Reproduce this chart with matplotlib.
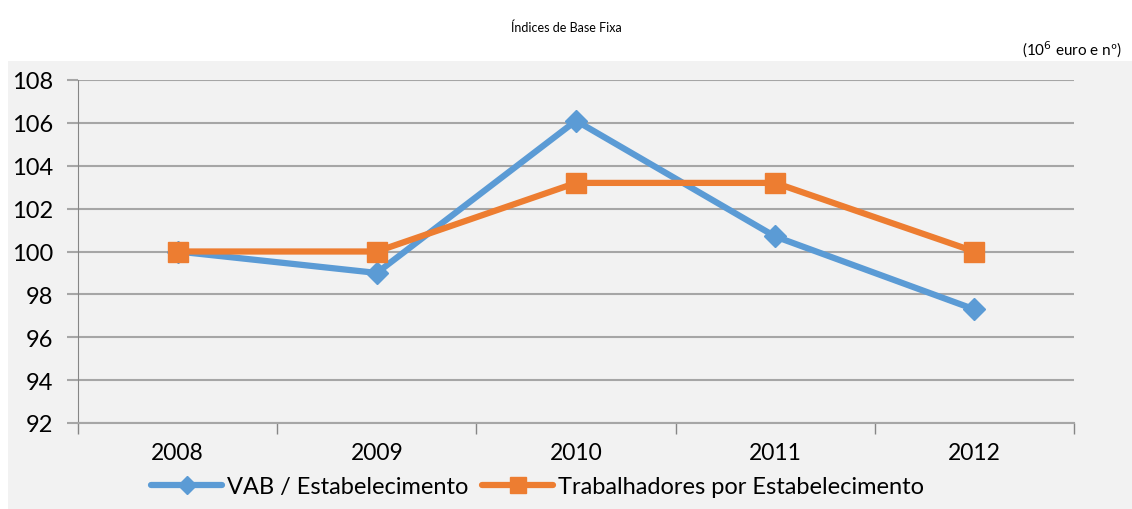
import matplotlib
matplotlib.use('Agg')
import matplotlib.pyplot as plt
from matplotlib.patches import Rectangle

years = ['2008', '2009', '2010', '2011', '2012']
vab = [100.0, 99.0, 106.1, 100.7, 97.3]
trab = [100.0, 100.0, 103.2, 103.2, 100.0]
yticks = [92, 94, 96, 98, 100, 102, 104, 106, 108]

plt.rcParams['font.family'] = ['Lato', 'DejaVu Sans']

W, H = 1132, 510
fig = plt.figure(figsize=(W / 100, H / 100), dpi=100)
fig.patch.set_facecolor('white')
# gray chart area, drawn behind the axes
bg = Rectangle((8 / W, 0), 1 - 8 / W, (H - 62) / H, transform=fig.transFigure,
               facecolor='#f2f2f2', edgecolor='none', zorder=-10)
fig.add_artist(bg)

ax = fig.add_axes([78 / W, (H - 424) / H, (1074 - 78) / W, (424 - 81) / H])
ax.set_facecolor('none')

x = list(range(len(years)))
ax.plot(x, vab, color='#5b9bd5', linewidth=4.5, marker='D', markersize=11,
        solid_capstyle='round', label='VAB / Estabelecimento', zorder=3)
ax.plot(x, trab, color='#ed7d31', linewidth=4.5, marker='s', markersize=14,
        solid_capstyle='round', label='Trabalhadores por Estabelecimento', zorder=4)

ax.set_xlim(-0.5, len(years) - 0.5)
ax.set_ylim(92, 108)
ax.set_yticks(yticks)
ax.set_yticklabels([str(t) for t in yticks], fontsize=17)
ax.set_xticks([i - 0.5 for i in range(len(years) + 1)])
ax.set_xticklabels([])
ax.set_xticks(x, minor=True)
ax.set_xticklabels(years, minor=True, fontsize=16.5)
ax.tick_params(axis='x', which='major', length=8, color='#868686', width=1)
ax.tick_params(axis='x', which='minor', length=0, pad=14)
ax.tick_params(axis='y', length=8, color='#a6a6a6', width=1.5, pad=10)

ax.grid(axis='y', color='#a6a6a6', linewidth=1.5)
ax.set_axisbelow(True)
for s in ['top', 'right']:
    ax.spines[s].set_visible(False)
ax.spines['left'].set_color('#868686')
ax.spines['bottom'].set_color('#a6a6a6')
ax.spines['bottom'].set_linewidth(1.5)

fig.text(0.5, 1 - 28 / H, 'Índices de Base Fixa', ha='center', va='center', fontsize=9)
fig.text(1122 / W, 1 - 50 / H, r'(10$^{6}$ euro e nº)', ha='right', va='center', fontsize=11)

fig.legend(loc='center', bbox_to_anchor=(0.475, 1 - 488 / H), ncol=2, frameon=False,
           fontsize=17, handlelength=3, handletextpad=0.2, columnspacing=0.6,
           markerscale=0.8)

fig.savefig('out.png', dpi=100)
